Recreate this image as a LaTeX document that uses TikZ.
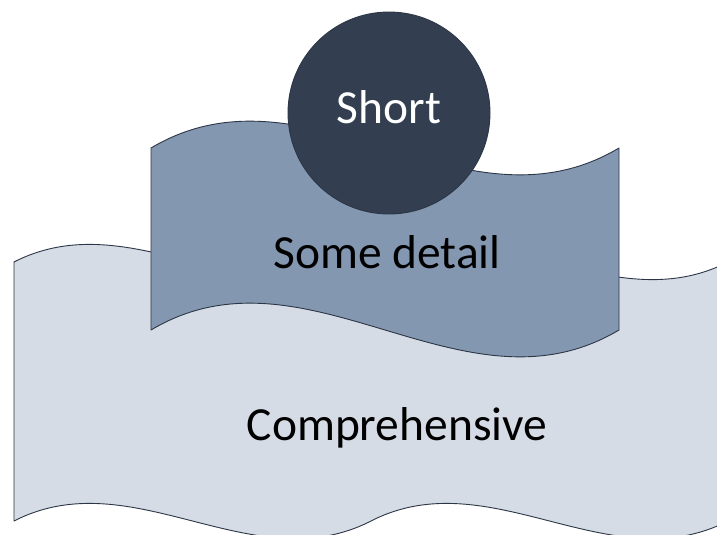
\documentclass[tikz,border=0pt]{standalone}
\usepackage{fontspec}
\setmainfont{Carlito}
\definecolor{lightband}{HTML}{D6DCE5}
\definecolor{midband}{HTML}{8497B0}
\definecolor{darkdisc}{HTML}{333F50}
\definecolor{edge}{HTML}{2B3646}
\begin{document}
\begin{tikzpicture}[x=1pt,y=-1pt,
  band/.style={draw=edge,line width=0.9pt,line join=round},
  lbl/.style={font=\fontsize{47.5}{52}\selectfont,anchor=base,inner sep=0pt}]
\useasboundingbox (0,0) rectangle (717,535);
\begin{scope}
\clip (0,0) rectangle (717,535);
% large double wave
\path[band,fill=lightband]
  (14,262) .. controls (133,201) and (252,323) .. (371,262)
           .. controls (490,201) and (609,323) .. (728,262)
  -- (728,521)
           .. controls (609,582) and (490,460) .. (371,521)
           .. controls (252,582) and (133,460) .. (14,521) -- cycle;
% middle wave
\path[band,fill=midband]
  (151,148) .. controls (307,55) and (463,241) .. (619,148)
  -- (619,330) .. controls (463,423) and (307,237) .. (151,330) -- cycle;
% disc
\path[band,fill=darkdisc] (389,113) circle[radius=101];
\end{scope}
\node[lbl,text=white] (short) at (389,123) {Short};
\node[lbl] (some) at (387,268) {Some detail};
\node[lbl] (comp) at (397,440) {Comprehensive};
\end{tikzpicture}
\end{document}
